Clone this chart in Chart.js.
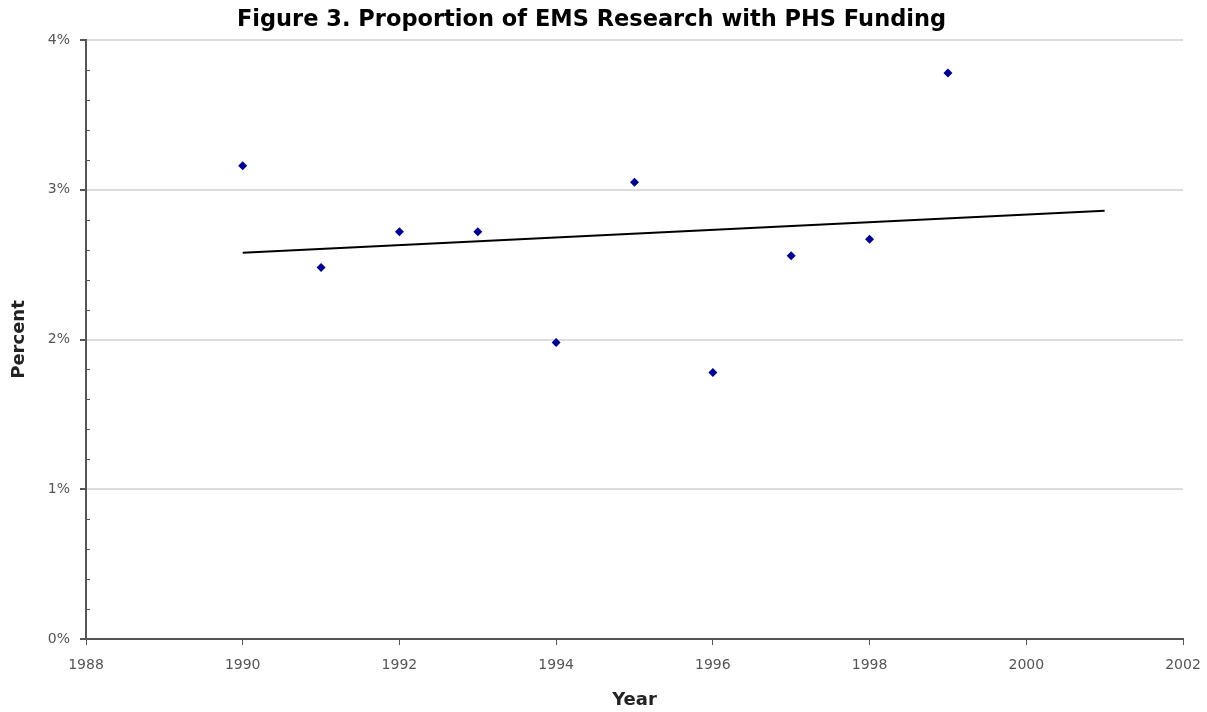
<!DOCTYPE html>
<html>
<head>
<meta charset="utf-8">
<script src="https://cdn.jsdelivr.net/npm/chart.js@4"></script>
<style>
html,body{margin:0;padding:0;background:#fff;overflow:hidden;}
canvas{display:block;}
</style>
</head>
<body>
<canvas id="c" width="1207" height="712"></canvas>
<script>
const years = [1990, 1991, 1992, 1993, 1994, 1995, 1996, 1997, 1998, 1999];
const percentValues = [3.16, 2.48, 2.72, 2.72, 1.98, 3.05, 1.78, 2.56, 2.67, 3.78];
const trendYears = [1990, 2001];
const trendValues = [2.58, 2.86];
const xTicks = [1988, 1990, 1992, 1994, 1996, 1998, 2000, 2002];
const yTickLabels = ['0%', '1%', '2%', '3%', '4%'];

const scatterData = years.map((y, i) => ({x: y, y: percentValues[i]}));
const trendData = trendYears.map((y, i) => ({x: y, y: trendValues[i]}));

const isMajor = (v) => Math.abs(v - Math.round(v)) < 1e-6;

// draws short minor tick marks on the inside of the y axis, positioned by the y scale
const minorTicks = {
  id: 'minorTicks',
  afterDraw(chart) {
    const s = chart.scales.y;
    const ctx = chart.ctx;
    ctx.save();
    ctx.strokeStyle = '#555';
    ctx.lineWidth = 1;
    s.ticks.forEach(t => {
      if (isMajor(t.value)) return;
      const py = Math.round(s.getPixelForValue(t.value)) + 0.5;
      ctx.beginPath();
      ctx.moveTo(s.right, py);
      ctx.lineTo(s.right + 4, py);
      ctx.stroke();
    });
    ctx.restore();
  }
};

new Chart(document.getElementById('c'), {
  type: 'scatter',
  data: {
    datasets: [
      {
        label: 'Percent',
        data: scatterData,
        pointStyle: 'rectRot',
        pointRadius: 4.5,
        pointBackgroundColor: '#00008f',
        pointBorderColor: '#00008f',
        pointBorderWidth: 0,
        showLine: false
      },
      {
        label: 'Trend',
        data: trendData,
        showLine: true,
        borderColor: '#000',
        borderWidth: 2,
        pointRadius: 0,
        fill: false
      }
    ]
  },
  plugins: [minorTicks],
  options: {
    responsive: false,
    animation: false,
    devicePixelRatio: 1,
    layout: {padding: {left: 0, right: 24, top: 0, bottom: 0}},
    plugins: {
      legend: {display: false},
      tooltip: {enabled: false},
      title: {
        display: true,
        text: 'Figure 3. Proportion of EMS Research with PHS Funding',
        color: '#000',
        font: {family: 'DejaVu Sans', size: 22.5, weight: 'bold'},
        padding: {top: 7, bottom: 6}
      }
    },
    scales: {
      x: {
        type: 'linear',
        min: 1988,
        max: 2002,
        afterBuildTicks: (s) => { s.ticks = xTicks.map(v => ({value: v})); },
        afterFit: (s) => { s.height = 73; s.paddingLeft = 0; s.paddingRight = 0; },
        border: {display: true, color: '#555', width: 2},
        grid: {display: true, drawOnChartArea: false, drawTicks: true, tickLength: 6, tickColor: '#555', tickWidth: 1},
        ticks: {
          color: '#555',
          font: {family: 'DejaVu Sans', size: 14},
          padding: 12,
          maxRotation: 0,
          callback: (v) => String(v)
        },
        title: {
          display: true,
          text: 'Year',
          color: '#222',
          font: {family: 'DejaVu Sans', size: 18, weight: 'bold'},
          padding: {top: 0, bottom: 1}
        }
      },
      y: {
        type: 'linear',
        min: 0,
        max: 4,
        afterBuildTicks: (s) => {
          const t = [];
          for (let i = 0; i <= 20; i++) t.push({value: i / 5});
          s.ticks = t;
        },
        afterFit: (s) => { s.width = 86; s.paddingTop = 0; s.paddingBottom = 0; },
        border: {display: true, color: '#555', width: 2},
        grid: {
          display: true,
          drawTicks: true,
          tickLength: 6,
          tickColor: (ctx) => (ctx.tick && isMajor(ctx.tick.value)) ? '#555' : 'rgba(0,0,0,0)',
          color: (ctx) => {
            if (!ctx.tick) return 'rgba(0,0,0,0)';
            const v = ctx.tick.value;
            return isMajor(v) && v > 0 ? '#dcdcdc' : 'rgba(0,0,0,0)';
          },
          lineWidth: 2
        },
        ticks: {
          color: '#555',
          font: {family: 'DejaVu Sans', size: 14},
          padding: 10,
          autoSkip: false,
          callback: (v) => isMajor(v) ? yTickLabels[Math.round(v)] : ''
        },
        title: {
          display: true,
          text: 'Percent',
          color: '#222',
          font: {family: 'DejaVu Sans', size: 18, weight: 'bold'},
          padding: {top: 9, bottom: 0}
        }
      }
    }
  }
});
</script>
</body>
</html>
